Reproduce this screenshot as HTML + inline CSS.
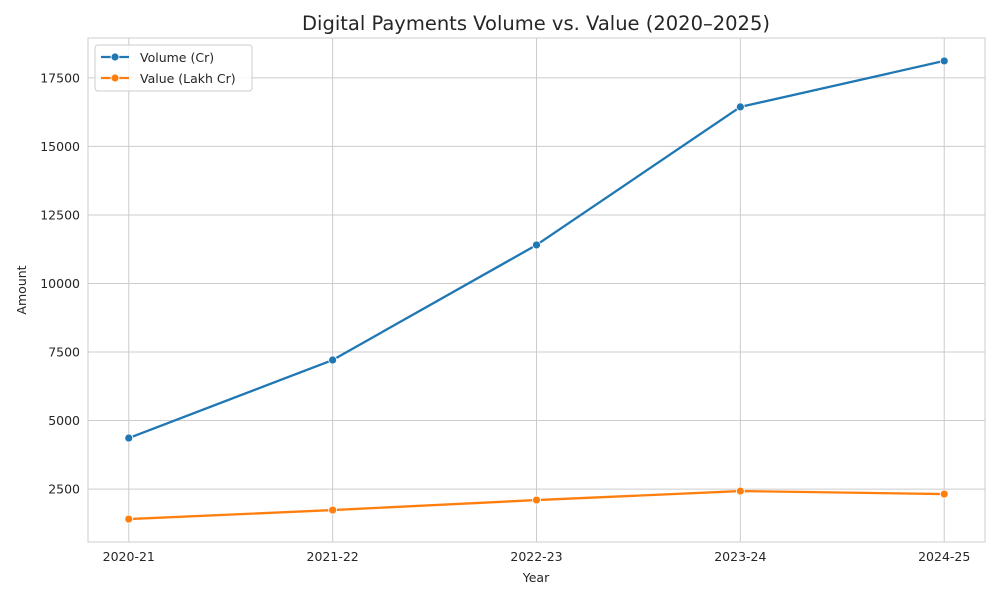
<!DOCTYPE html>
<html><head><meta charset="utf-8"><style>
body{margin:0;background:#fff;font-family:"DejaVu Sans","Liberation Sans",sans-serif;}
svg text{font-family:"DejaVu Sans","Liberation Sans",sans-serif;}
</style></head><body>
<svg width="1000" height="600" xmlns="http://www.w3.org/2000/svg" id="chart">
<rect width="1000" height="600" fill="#fff"/>
<g id="grid"></g>
<rect x="88" y="38" width="897" height="504" fill="none" stroke="#ccc" stroke-width="1"/>
<g id="series"></g>
<g id="ticks" font-size="12.5" fill="#262626"></g>
<text x="536" y="30" text-anchor="middle" font-size="19.5" fill="#262626">Digital Payments Volume vs. Value (2020–2025)</text>
<text x="536" y="582" text-anchor="middle" font-size="12.5" fill="#262626">Year</text>
<text x="26" y="290" text-anchor="middle" font-size="12.5" fill="#262626" transform="rotate(-90 26 290)">Amount</text>
<g>
<rect x="95" y="45" width="157" height="46" rx="3" fill="#fff" fill-opacity="0.8" stroke="#ccc"/>
<g>
<line x1="101" y1="57" x2="129" y2="57" stroke="#1f77b4" stroke-width="2.2"/><circle cx="115" cy="57" r="4" fill="#1f77b4" stroke="#fff" stroke-width="0.8"/>
<text x="140" y="62" font-size="12.5" fill="#262626">Volume (Cr)</text></g>
<g>
<line x1="101" y1="78" x2="129" y2="78" stroke="#ff7f0e" stroke-width="2.2"/><circle cx="115" cy="78" r="4" fill="#ff7f0e" stroke="#fff" stroke-width="0.8"/>
<text x="140" y="83" font-size="12.5" fill="#262626">Value (Lakh Cr)</text></g>
</g>
</svg>
<script>
const categories=["2020-21","2021-22","2022-23","2023-24","2024-25"];
const volume=[4362,7208,11405,16442,18120];
const value=[1405,1734,2099,2427,2318];
const yTicks=[2500,5000,7500,10000,12500,15000,17500];
const yMin=569,yMax=18956;
const L=88,R=985,T=38,B=542;
const NS="http://www.w3.org/2000/svg";
const step=(R-L)/(categories.length-1+0.4);
function xs(i){return L+step*(0.2+i);}
function ys(v){return B-(v-yMin)/(yMax-yMin)*(B-T);}
function mk(tag,attrs,parent){const e=document.createElementNS(NS,tag);for(const k in attrs)e.setAttribute(k,attrs[k]);parent.appendChild(e);return e;}
const grid=document.getElementById('grid'),ticks=document.getElementById('ticks'),ser=document.getElementById('series');
yTicks.forEach(t=>{const y=ys(t);
const l=mk('line',{x1:L,x2:R,y1:y,y2:y,stroke:'#ccc','stroke-width':1},grid);


const tx=mk('text',{x:L-8,y:y+4.5,'text-anchor':'end'},ticks);tx.textContent=t;

});
categories.forEach((c,i)=>{const x=xs(i);
const l=mk('line',{x1:x,x2:x,y1:T,y2:B,stroke:'#ccc','stroke-width':1},grid);


const tx=mk('text',{x:x,y:B+19,'text-anchor':'middle'},ticks);tx.textContent=c;

});
function draw(data,color,name){
const p=mk('polyline',{points:data.map((v,i)=>xs(i)+','+ys(v)).join(' '),fill:'none',stroke:color,'stroke-width':2.3,'stroke-linejoin':'round'},ser);


data.forEach((v,i)=>{const c=mk('circle',{cx:xs(i),cy:ys(v),r:4,fill:color,stroke:'#fff','stroke-width':0.8},ser);

});}
draw(volume,'#1f77b4','volume');
draw(value,'#ff7f0e','value');
</script>
</body></html>
